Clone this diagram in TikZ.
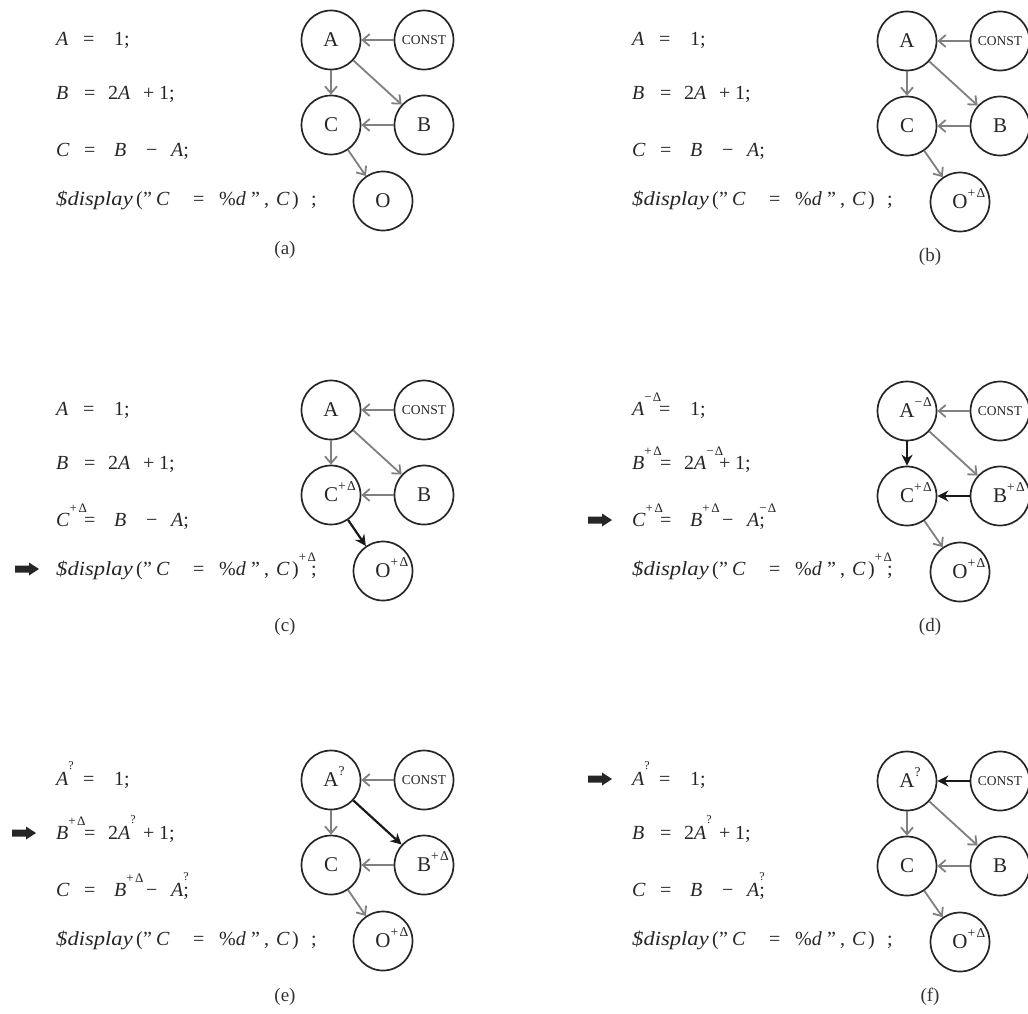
\documentclass[tikz,border=0pt]{standalone}
\usepackage{fontspec}
\setmainfont{Liberation Serif}
\usetikzlibrary{arrows.meta}
\newcommand\tk[2]{\makebox[#1pt][l]{#2}}
\newcommand\V[1]{\textit{#1}}
\newcommand\tsup[1]{\smash{\raisebox{14pt}{\fontsize{13}{13}\selectfont #1}}}
\newcommand\qsup{\smash{\raisebox{15.5pt}{\fontsize{12}{12}\selectfont ?}}}
\newcommand\nsup[1]{\rlap{\smash{\raisebox{11pt}{\fontsize{13.5}{13.5}\selectfont #1}}}}
\newcommand\pd{+\kern1.5pt Δ}
\newcommand\md{−\kern1pt Δ}
\newcommand\ZlineA[1]{\tk{27}{\V{A}#1}\tk{31}{=}1;}
\newcommand\ZlineB[2]{\tk{28}{\V{B}#1}\tk{24}{=}2\tk{25}{\V{A}#2}\tk{16}{+}1;}
\newcommand\ZlineC[3]{\tk{28}{\V{C}#1}\tk{30}{=}\tk{32}{\V{B}#2}\tk{25}{−}\V{A}\rlap{#3};}
\newcommand\ZlineD[1]{\tk{80}{\scalebox{1.13}[1]{\V{\$display}}}\tk{7}{(}\tk{13}{"}\tk{37}{\V{C}}\tk{26}{=}\tk{32}{\%\V{d}}\tk{13}{"}\tk{12}{,}\tk{16}{\V{C}}\tk{19}{)#1};}
\newcommand\Zmark[2]{\fill[black!85] (#1,#2) ++(0,-3.5) -- ++(14,0) -- ++(0,-3) -- ++(10,6.5) -- ++(-10,6.5) -- ++(0,-3) -- ++(-14,0) -- cycle;}
\tikzset{
  vn/.style={circle, draw=black!85, line width=1.7pt, minimum size=59pt, inner sep=0pt,
             font=\fontsize{21}{21}\selectfont, text=black!85},
  kn/.style={vn, font=\fontsize{13.5}{13.5}\selectfont},
  ed/.style={draw=black!50, line width=1.8pt, -{Straight Barb[length=7pt,width=12pt]}},
  hot/.style={draw=black!90, line width=2.2pt, -{Stealth[length=11pt,width=11pt]}},
  ln/.style={anchor=base west, inner sep=0pt, font=\fontsize{20}{20}\selectfont, text=black!85},
  lab/.style={inner sep=0pt, font=\fontsize{19}{19}\selectfont, text=black!80},
}
\begin{document}
\begin{tikzpicture}[x=1pt,y=-1pt]
\useasboundingbox[fill=white] (0,0) rectangle (1028,1013);

% ---------- (a)
\begin{scope}
  \node[vn] (aA) at (331,40) {A};
  \node[kn] (aK) at (424,40) {CONST};
  \node[vn] (aC) at (331,125) {C};
  \node[vn] (aB) at (424,125) {B};
  \node[vn] (aO) at (383,201) {O};
  \draw[ed] (aK) -- (aA);
  \draw[ed] (aA) -- (aC);
  \draw[ed] (aA) -- (aB);
  \draw[ed] (aB) -- (aC);
  \draw[ed] (aC) -- (aO);
  \node[ln] (a1) at (56,45) {\ZlineA{}};
  \node[ln] (a2) at (56,99) {\ZlineB{}{}};
  \node[ln] (a3) at (56,156) {\ZlineC{}{}{}};
  \node[ln] (a4) at (56,205) {\ZlineD{}};
\end{scope}

% ---------- (b)
\begin{scope}[shift={(576,0)}]
  \node[vn] (bA) at (331,41) {A};
  \node[kn] (bK) at (424,41) {CONST};
  \node[vn] (bC) at (331,126) {C};
  \node[vn] (bB) at (424,126) {B};
  \node[vn] (bO) at (384,202) {O\nsup{\pd}};
  \draw[ed] (bK) -- (bA);
  \draw[ed] (bA) -- (bC);
  \draw[ed] (bA) -- (bB);
  \draw[ed] (bB) -- (bC);
  \draw[ed] (bC) -- (bO);
  \node[ln] (b1) at (56,45) {\ZlineA{}};
  \node[ln] (b2) at (56,99) {\ZlineB{}{}};
  \node[ln] (b3) at (56,156) {\ZlineC{}{}{}};
  \node[ln] (b4) at (56,205) {\ZlineD{}};
\end{scope}

% ---------- (c)
\begin{scope}[shift={(0,370)}]
  \node[vn] (cA) at (331,40) {A};
  \node[kn] (cK) at (424,40) {CONST};
  \node[vn] (cC) at (331,125) {C\nsup{\pd}};
  \node[vn] (cB) at (424,125) {B};
  \node[vn] (cO) at (383,201) {O\nsup{\pd}};
  \draw[ed] (cK) -- (cA);
  \draw[ed] (cA) -- (cC);
  \draw[ed] (cA) -- (cB);
  \draw[ed] (cB) -- (cC);
  \draw[hot] (cC) -- (cO);
  \node[ln] (c1) at (56,45) {\ZlineA{}};
  \node[ln] (c2) at (56,99) {\ZlineB{}{}};
  \node[ln] (c3) at (56,156) {\ZlineC{\tsup{\pd}}{}{}};
  \node[ln] (c4) at (56,205) {\ZlineD{\tsup{\pd}}};
  \Zmark{15}{199}
\end{scope}

% ---------- (d)
\begin{scope}[shift={(576,370)}]
  \node[vn] (dA) at (331,41) {A\nsup{\md}};
  \node[kn] (dK) at (424,41) {CONST};
  \node[vn] (dC) at (331,126) {C\nsup{\pd}};
  \node[vn] (dB) at (424,126) {B\nsup{\pd}};
  \node[vn] (dO) at (384,202) {O\nsup{\pd}};
  \draw[ed] (dK) -- (dA);
  \draw[hot] (dA) -- (dC);
  \draw[ed] (dA) -- (dB);
  \draw[hot, line width=2.8pt] (dB) -- (dC);
  \draw[ed] (dC) -- (dO);
  \node[ln] (d1) at (56,45) {\ZlineA{\tsup{\md}}};
  \node[ln] (d2) at (56,99) {\ZlineB{\tsup{\pd}}{\tsup{\md}}};
  \node[ln] (d3) at (56,156) {\ZlineC{\tsup{\pd}}{\tsup{\pd}}{\tsup{\md}}};
  \node[ln] (d4) at (56,205) {\ZlineD{\tsup{\pd}}};
  \Zmark{12}{150}
\end{scope}

% ---------- (e)
\begin{scope}[shift={(0,740)}]
  \node[vn] (eA) at (331,40) {A\nsup{?}};
  \node[kn] (eK) at (424,40) {CONST};
  \node[vn] (eC) at (331,125) {C};
  \node[vn] (eB) at (424,125) {B\nsup{\pd}};
  \node[vn] (eO) at (383,201) {O\nsup{\pd}};
  \draw[ed] (eK) -- (eA);
  \draw[ed] (eA) -- (eC);
  \draw[hot] (eA) -- (eB);
  \draw[ed] (eB) -- (eC);
  \draw[ed] (eC) -- (eO);
  \node[ln] (e1) at (56,45) {\ZlineA{\qsup}};
  \node[ln] (e2) at (56,99) {\ZlineB{\tsup{\pd}}{\qsup}};
  \node[ln] (e3) at (56,156) {\ZlineC{}{\tsup{\pd}}{\qsup}};
  \node[ln] (e4) at (56,205) {\ZlineD{}};
  \Zmark{12}{93}
\end{scope}

% ---------- (f)
\begin{scope}[shift={(576,740)}]
  \node[vn] (fA) at (331,41) {A\nsup{?}};
  \node[kn] (fK) at (424,41) {CONST};
  \node[vn] (fC) at (331,126) {C};
  \node[vn] (fB) at (424,126) {B};
  \node[vn] (fO) at (384,202) {O\nsup{\pd}};
  \draw[hot] (fK) -- (fA);
  \draw[ed] (fA) -- (fC);
  \draw[ed] (fA) -- (fB);
  \draw[ed] (fB) -- (fC);
  \draw[ed] (fC) -- (fO);
  \node[ln] (f1) at (56,45) {\ZlineA{\qsup}};
  \node[ln] (f2) at (56,99) {\ZlineB{}{\qsup}};
  \node[ln] (f3) at (56,156) {\ZlineC{}{}{\qsup}};
  \node[ln] (f4) at (56,205) {\ZlineD{}};
  \Zmark{12}{39}
\end{scope}

% ---------- captions
\node[lab] (la) at (285,250) {(a)};
\node[lab] (lb) at (930,257) {(b)};
\node[lab] (lc) at (285,627) {(c)};
\node[lab] (ld) at (930,627) {(d)};
\node[lab] (le) at (285,997) {(e)};
\node[lab] (lf) at (930,997) {(f)};
\end{tikzpicture}
\end{document}
